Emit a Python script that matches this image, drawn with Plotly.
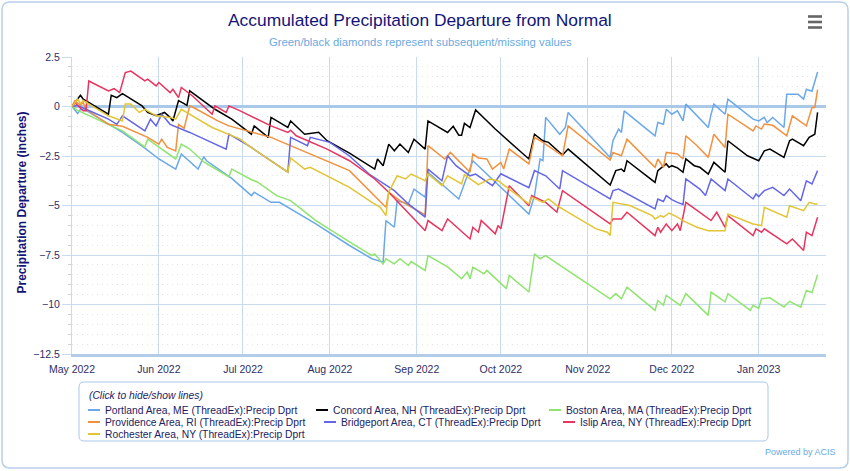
import plotly.graph_objects as go
import pandas as pd

# ---------------- data (days since 2022-05-01, departure in inches) ----------------
START = "2022-05-01"
X_END = "2023-01-25"

NAMES = [
    "Portland Area, ME (ThreadEx):Precip Dprt",
    "Concord Area, NH (ThreadEx):Precip Dprt",
    "Boston Area, MA (ThreadEx):Precip Dprt",
    "Providence Area, RI (ThreadEx):Precip Dprt",
    "Bridgeport Area, CT (ThreadEx):Precip Dprt",
    "Islip Area, NY (ThreadEx):Precip Dprt",
    "Rochester Area, NY (ThreadEx):Precip Dprt",
]
COLORS = ["#6aa8e8", "#000000", "#8ee46e", "#f2913d", "#6466e6", "#e8345e", "#e2c535"]

portland = [(0,0),(2,-0.35),(3,-0.14),(5,-0.2),(18,-1.31),(26,-2.1),(31,-2.65),(37,-3.16),(39,-2.4),
    (45,-3.16),(47,-2.54),(48,-2.74),(57,-3.63),(64,-4.5),(65,-4.33),(71,-4.84),(74,-4.84),(77,-5.09),
    (87,-5.93),(99,-7.02),(107,-7.69),(111,-7.86),(112,-5.76),(115,-6.1),(116,-4.76),(120,-4.92),
    (122,-4.17),(126,-4.58),(127,-3.32),(138,-4.67),(140,-3.9),(143,-2.74),(163,-5.43),(165,-4.5),
    (167,-2.65),(168,-2.74),(169,-0.55),(174,-1.4),(176,-1.06),(177,-0.3),(192,-2.57),(193,-1.73),
    (195,-1.14),(196,-1.31),(197,-0.22),(208,-1.48),(209,-0.81),(211,-0.9),(212,-0.14),(214,-0.39),
    (216,-0.22),(218,-0.73),(219,0.12),(227,-1.06),(228,-0.39),(229,0.12),(233,-0.39),(234,0.37),
    (243,-0.64),(245,-0.73),(247,-0.55),(248,-0.81),(250,-0.55),(254,-1.06),(255,0.62),(259,0.62),
    (261,0.37),(262,0.87),(264,0.77),(266,1.74)]

concord = [(0,0),(3,0.57),(4,0.37),(11,-0.22),(13,-0.39),(14,0.57),(16,0.45),(18,0.65),(25,0.03),
    (27,-0.3),(30,-0.47),(33,-0.3),(35,-0.55),(36,-0.73),(38,0.3),(40,0.15),(41,0.05),(42,0.79),
    (48,0.2),(51,-0.14),(57,-0.64),(64,-1.4),(65,-0.98),(70,-1.56),(71,-0.55),(77,-1.06),(78,-0.73),
    (83,-1.4),(88,-1.3),(91,-1.73),(99,-2.35),(107,-3.07),(108,-3.16),(109,-2.65),(111,-2.99),
    (113,-1.9),(115,-2.24),(117,-1.9),(120,-2.32),(122,-1.65),(126,-2.15),(127,-0.73),(134,-1.31),
    (136,-1.0),(138,-1.45),(139,-1.45),(140,-0.85),(142,-1.06),(144,-0.17),(151,-1.14),(163,-2.65),
    (165,-1.4),(168,-1.73),(170,-1.81),(175,-2.45),(177,-2.15),(192,-3.97),(194,-3.24),(196,-3.16),
    (197,-3.3),(198,-2.74),(208,-3.83),(209,-3.24),(212,-2.9),(213,-3.07),(214,-2.99),(216,-3.1),
    (218,-3.32),(219,-2.65),(222,-2.99),(224,-3.07),(227,-3.41),(229,-2.82),(233,-3.32),(234,-1.73),
    (241,-2.49),(245,-2.74),(247,-2.24),(249,-2.15),(254,-2.57),(256,-1.73),(257,-1.65),(261,-1.98),
    (263,-1.56),(265,-1.4),(266,-0.3)]

boston = [(0,0),(2,-0.2),(18,-1.23),(26,-2.05),(27,-1.65),(37,-2.65),(39,-1.9),(42,-2.15),(47,-2.8),
    (56,-3.56),(57,-3.16),(64,-3.7),(66,-3.8),(73,-4.5),(78,-4.75),(87,-5.76),(99,-6.84),(107,-7.53),
    (108,-7.45),(111,-7.95),(112,-7.69),(115,-7.95),(117,-7.69),(120,-8.03),(121,-7.83),(126,-8.28),
    (127,-7.53),(134,-8.1),(139,-8.7),(141,-8.36),(142,-8.7),(143,-8.11),(147,-8.45),(148,-8.28),
    (155,-9.2),(156,-8.53),(163,-9.37),(165,-7.44),(167,-7.69),(169,-7.53),(176,-8.2),(192,-9.71),
    (194,-9.45),(196,-9.71),(198,-9.12),(208,-10.3),(209,-9.8),(211,-10.04),(212,-9.54),(217,-10.04),
    (219,-9.45),(227,-10.55),(228,-9.37),(233,-9.87),(234,-9.45),(242,-10.3),(243,-10.04),(245,-10.2),
    (246,-9.71),(249,-9.66),(254,-10.13),(256,-9.84),(260,-10.13),(262,-9.29),(264,-9.4),(266,-8.5)]

providence = [(0,0),(1,0.28),(3,0.07),(4,0.2),(5,-0.14),(13,-0.9),(18,-1.0),(27,-1.56),(31,-1.9),
    (32,-1.65),(34,-2.07),(37,-2.24),(38,-0.9),(40,-1.1),(42,0.03),(44,-0.1),(52,-0.73),(56,-0.98),
    (71,-1.56),(90,-2.7),(99,-3.24),(112,-5.09),(113,-4.33),(117,-4.75),(126,-5.48),(127,-1.98),
    (133,-2.65),(135,-2.32),(142,-3.32),(143,-2.4),(145,-2.6),(148,-2.65),(150,-3.16),(153,-2.82),
    (154,-3.16),(156,-2.15),(163,-2.9),(165,-1.56),(168,-1.81),(175,-2.49),(177,-0.98),(192,-2.7),
    (193,-2.32),(196,-2.49),(198,-1.65),(208,-3.07),(209,-2.65),(211,-3.07),(212,-2.32),(216,-2.4),
    (218,-2.65),(219,-1.48),(223,-1.98),(227,-2.57),(229,-1.4),(233,-2.07),(234,-0.39),(243,-1.23),
    (244,-0.98),(246,-1.14),(247,-0.89),(250,-0.95),(255,-1.48),(257,-0.47),(262,-0.98),(264,-0.05),
    (265,-0.05),(266,0.85)]

bridgeport = [(0,0),(2,0.05),(5,-0.14),(13,-0.64),(16,-0.9),(18,-0.47),(26,-1.23),(28,-0.64),(30,-0.98),
    (32,-0.39),(35,-0.9),(42,-1.31),(55,-2.15),(56,-1.4),(63,-1.98),(70,-2.65),(77,-3.32),(78,-1.56),
    (84,-1.98),(85,-1.56),(92,-1.81),(99,-2.5),(106,-3.41),(115,-4.25),(120,-4.92),(126,-5.59),
    (127,-3.16),(132,-3.75),(134,-2.49),(137,-2.99),(142,-3.5),(144,-3.41),(150,-4.0),(153,-3.4),
    (163,-4.1),(165,-3.24),(169,-3.5),(174,-4.17),(175,-3.24),(192,-4.67),(193,-4.25),(195,-4.17),
    (197,-4.33),(208,-5.17),(209,-4.67),(211,-4.8),(212,-4.5),(214,-4.7),(216,-4.84),(218,-4.95),
    (219,-3.66),(224,-4.17),(226,-4.5),(228,-3.66),(233,-4.25),(234,-3.66),(243,-4.67),(244,-4.42),
    (245,-4.55),(247,-4.25),(250,-4.08),(254,-4.5),(256,-4.17),(260,-4.76),(262,-3.75),(264,-3.91),
    (266,-3.24)]

islip = [(0,0),(1,0.2),(4,-0.22),(5,-0.22),(6,1.29),(13,0.79),(15,0.9),(17,0.7),(19,1.71),(21,1.79),
    (26,1.29),(27,1.38),(30,1.04),(31,1.21),(35,0.7),(36,0.87),(38,0.45),(39,0.96),(43,0.53),(50,-0.39),
    (51,0.03),(55,-0.3),(56,0.03),(60,-0.22),(71,-0.98),(77,-1.31),(78,-1.2),(80,-1.48),(91,-2.15),
    (99,-2.74),(108,-3.66),(113,-4.33),(126,-6.27),(127,-5.76),(132,-6.27),(134,-5.68),(142,-6.69),
    (143,-6.1),(145,-6.35),(146,-5.76),(151,-6.43),(152,-6.01),(153,-6.18),(155,-4.67),(156,-4.0),
    (163,-5.01),(164,-4.5),(169,-4.84),(173,-5.34),(175,-4.25),(192,-5.93),(193,-5.68),(196,-5.68),
    (198,-5.34),(208,-6.52),(209,-6.1),(210,-6.35),(212,-5.93),(214,-6.27),(216,-5.93),(217,-6.27),
    (219,-4.84),(223,-5.26),(228,-5.76),(230,-5.34),(233,-6.1),(234,-5.51),(243,-6.52),(244,-6.18),
    (246,-6.35),(247,-6.18),(255,-6.94),(257,-6.69),(261,-7.27),(262,-6.35),(264,-6.52),(266,-5.59)]

rochester = [(0,0),(2,0.37),(3,0.15),(4,0.3),(13,-0.47),(18,-0.73),(19,0.12),(21,0.12),(24,-0.3),
    (26,-0.14),(30,-0.47),(35,-0.55),(37,-0.64),(39,-0.14),(50,-1.06),(60,-1.65),(63,-1.98),(70,-2.65),
    (77,-3.32),(78,-2.6),(83,-3.16),(85,-3.07),(91,-3.5),(99,-4.08),(107,-4.84),(110,-5.09),(112,-5.51),
    (113,-4.33),(116,-3.5),(119,-3.66),(121,-3.41),(126,-3.75),(127,-3.41),(132,-4.0),(134,-3.5),
    (139,-3.91),(140,-3.45),(145,-3.95),(149,-3.66),(152,-3.75),(163,-4.92),(164,-4.58),(168,-4.84),
    (170,-4.67),(173,-5.01),(187,-6.18),(191,-6.35),(192,-6.52),(193,-4.84),(199,-5.0),(207,-5.51),
    (208,-5.68),(210,-5.51),(211,-5.59),(213,-5.38),(215,-5.51),(219,-5.84),(223,-6.1),(227,-6.27),
    (233,-6.27),(234,-5.43),(243,-5.93),(246,-6.01),(247,-5.09),(255,-5.59),(256,-5.01),(261,-5.26),
    (263,-4.84),(265,-4.92),(266,-4.92)]

SERIES = [portland, concord, boston, providence, bridgeport, islip, rochester]

TITLE = "Accumulated Precipitation Departure from Normal"
SUBTITLE = "Green/black diamonds represent subsequent/missing values"
Y_TITLE = "Precipitation Departure (inches)"
LEGEND_TITLE = "(Click to hide/show lines)"
CREDIT = "Powered by ACIS"

# ---------------- layout geometry (pixels) ----------------
W, H = 850, 471
ML, MR, MT, MB = 72, 24, 57, 117
PW, PH = W - ML - MR, H - MT - MB

def px(x):
    return (x - ML) / PW

def py(y):
    return (H - MB - y) / PH

FONT = "Liberation Sans, Arial, sans-serif"
NAVY = "#141478"
TICKC = "#2e2e66"
GRID = "#c9dbef"
LIGHTBLUE = "#6aaae2"

fig = go.Figure()
start = pd.Timestamp(START)
for name, color, pts in zip(NAMES, COLORS, SERIES):
    days = [p[0] for p in pts]
    vals = [p[1] for p in pts]
    xs = start + pd.to_timedelta(days, unit="D")
    fig.add_trace(go.Scatter(x=xs, y=vals, mode="lines", name=name,
                             line=dict(color=color, width=1.5), showlegend=False,
                             hovertemplate="%{x|%b %d, %Y}: %{y:.2f}<extra>" + name + "</extra>"))

def rounded(x0, y0, x1, y1, r):
    return (f"M {px(x0+r)},{py(y0)} L {px(x1-r)},{py(y0)} Q {px(x1)},{py(y0)} {px(x1)},{py(y0+r)} "
            f"L {px(x1)},{py(y1-r)} Q {px(x1)},{py(y1)} {px(x1-r)},{py(y1)} "
            f"L {px(x0+r)},{py(y1)} Q {px(x0)},{py(y1)} {px(x0)},{py(y1-r)} "
            f"L {px(x0)},{py(y0+r)} Q {px(x0)},{py(y0)} {px(x0+r)},{py(y0)} Z")

shapes = []
# outer chart border
shapes.append(dict(type="path", xref="paper", yref="paper", path=rounded(2, 2, 848, 468, 8),
                   line=dict(color="#b9d0ea", width=1.5), layer="below"))
# legend box
shapes.append(dict(type="path", xref="paper", yref="paper", path=rounded(79, 382, 768, 441, 5),
                   line=dict(color="#a9c9ec", width=1)))
# hamburger menu icon
for yy in (16.5, 22, 27.5):
    shapes.append(dict(type="line", xref="paper", yref="paper", x0=px(808), x1=px(822),
                       y0=py(yy), y1=py(yy), line=dict(color="#666666", width=2.6)))

annotations = [
    dict(text=TITLE, x=px(420), y=py(20), xref="paper", yref="paper", showarrow=False,
         xanchor="center", yanchor="middle", font=dict(family=FONT, size=17.4, color=NAVY)),
    dict(text=SUBTITLE, x=px(420), y=py(42), xref="paper", yref="paper", showarrow=False,
         xanchor="center", yanchor="middle", font=dict(family=FONT, size=11.3, color=LIGHTBLUE)),
    dict(text=Y_TITLE, x=px(21.5), y=py(203), xref="paper", yref="paper", showarrow=False,
         textangle=-90, xanchor="center", yanchor="middle",
         font=dict(family=FONT, size=12, color=NAVY, weight="bold")),
    dict(text=CREDIT, x=px(838), y=py(452), xref="paper", yref="paper", showarrow=False,
         xanchor="right", yanchor="middle", font=dict(family=FONT, size=9, color=LIGHTBLUE)),
    dict(text="<i>" + LEGEND_TITLE + "</i>", x=px(87), y=py(395), xref="paper", yref="paper",
         showarrow=False, xanchor="left", yanchor="middle",
         font=dict(family=FONT, size=10.3, color="#22225f")),
]

# manual legend entries (line sample + label)
LEG_POS = [(88, 410), (316, 410), (549, 410), (88, 422), (324, 422), (563, 422), (88, 434)]
for (lx, ly), name, color in zip(LEG_POS, NAMES, COLORS):
    shapes.append(dict(type="line", xref="paper", yref="paper", x0=px(lx), x1=px(lx + 12),
                       y0=py(ly), y1=py(ly), line=dict(color=color, width=2)))
    annotations.append(dict(text=name, x=px(lx + 15), y=py(ly), xref="paper", yref="paper",
                            showarrow=False, xanchor="left", yanchor="middle",
                            font=dict(family=FONT, size=10.3, color="#22225f")))

fig.update_layout(
    width=W, height=H,
    margin=dict(l=ML, r=MR, t=MT, b=MB, pad=0),
    paper_bgcolor="white", plot_bgcolor="white",
    showlegend=False,
    shapes=shapes, annotations=annotations,
    font=dict(family=FONT, size=10.5, color=TICKC),
    xaxis=dict(type="date", range=[START, X_END], tick0=START, dtick="M1", tickformat="%b %Y",
               showgrid=True, gridcolor=GRID, gridwidth=1, ticks="", ticklabelstandoff=4,
               showline=True, linecolor="#b3cce8", linewidth=2.5,
               tickfont=dict(family=FONT, size=10.5, color=TICKC), fixedrange=True),
    yaxis=dict(range=[-12.5, 2.5], tick0=0, dtick=2.5, showgrid=True, gridcolor=GRID, gridwidth=1,
               zeroline=True, zerolinecolor="#aac8e8", zerolinewidth=2.5,
               showline=True, linecolor=GRID, linewidth=1,
               ticks="outside", ticklen=9, tickcolor=GRID, tickwidth=1,
               minor=dict(dtick=0.5, tick0=0, showgrid=True, gridcolor="#e4e4e4", griddash="1px,4px",
                          gridwidth=1, ticks="outside", ticklen=3, tickcolor="#d0d0d0"),
               tickfont=dict(family=FONT, size=10.5, color=TICKC), fixedrange=True),
)

fig.write_html("out.html", config={"displayModeBar": False})
